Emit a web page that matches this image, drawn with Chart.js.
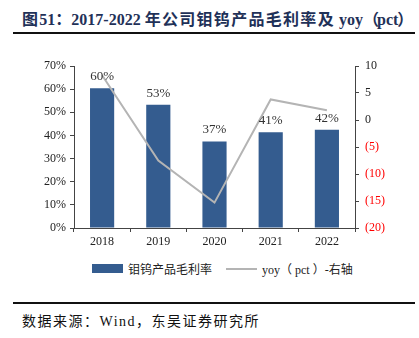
<!DOCTYPE html>
<html>
<head>
<meta charset="utf-8">
<script src="https://cdn.jsdelivr.net/npm/chart.js@4/dist/chart.umd.min.js"></script>
<style>
  body { margin: 0; background: #fff; width: 419px; height: 338px; position: relative; overflow: hidden; }
  .title { position: absolute; left: 22px; top: 6px; font: bold 16px "Liberation Serif", "Noto Sans CJK SC", serif; color: #1f3158; white-space: nowrap; }
  .title .cjk { letter-spacing: 1.3px; }
  .rule { position: absolute; left: 13px; width: 402px; height: 2px; background: #111; }
  .box { position: absolute; left: 0; top: 50px; width: 419px; height: 195px; }
  .legend { position: absolute; top: 260px; left: 0; width: 419px; font: 12px "Liberation Serif", "Noto Sans CJK SC", serif; color: #222; }
  .legend span { position: absolute; white-space: nowrap; }
  .source { position: absolute; left: 22px; top: 310px; font: 14px "Liberation Serif", "Noto Sans CJK SC", serif; letter-spacing: 1.5px; color: #111; white-space: nowrap; }
</style>
</head>
<body>
<div class="title"><span class="cjk">图</span>51：2017-2022 <span class="cjk">年公司钼钨产品毛利率及</span> yoy<span style="letter-spacing:-6px">（</span> pct <span style="margin-left:-5px">）</span></div>
<div class="rule" style="top:32px"></div>
<div class="box"><canvas id="chart"></canvas></div>
<div class="legend">
  <span style="left:92px;top:4px;width:31px;height:9px;background:#345c8f"></span>
  <span style="left:128px;top:0">钼钨产品毛利率</span>
  <span style="left:226px;top:8px;width:31px;height:2px;background:#b4b4b4"></span>
  <span style="left:262px;top:0">yoy（ pct ）-右轴</span>
</div>
<div class="rule" style="top:302px"></div>
<div class="source">数据来源：Wind，东吴证券研究所</div>
<script>
const years = ['2018', '2019', '2020', '2021', '2022'];
const grossMargin = [60.4, 53.3, 37.4, 41.4, 42.4];
const yoyPct = [8.3, -7.5, -15.3, 3.8, 1.8];
const leftTicks = [0, 10, 20, 30, 40, 50, 60, 70];
const rightTicks = [-20, -15, -10, -5, 0, 5, 10];

const serif = '"Liberation Serif", "Times New Roman", serif';

// percent labels above each bar
const barLabels = {
  id: 'barLabels',
  afterDatasetsDraw(chart) {
    const ctx = chart.ctx;
    const meta = chart.getDatasetMeta(0);
    ctx.save();
    ctx.font = '13px ' + serif;
    ctx.fillStyle = '#333';
    ctx.textAlign = 'center';
    ctx.textBaseline = 'bottom';
    meta.data.forEach((bar, i) => {
      ctx.fillText(Math.round(grossMargin[i]) + '%', bar.x, bar.y - 5);
    });
    ctx.restore();
  }
};

new Chart(document.getElementById('chart'), {
  type: 'bar',
  data: {
    labels: years,
    datasets: [
      {
        label: '钼钨产品毛利率',
        data: grossMargin,
        backgroundColor: '#345c8f',
        categoryPercentage: 0.43,
        barPercentage: 1,
        yAxisID: 'y',
        order: 2
      },
      {
        type: 'line',
        label: 'yoy（pct）-右轴',
        data: yoyPct,
        borderColor: '#b4b4b4',
        borderWidth: 2,
        pointRadius: 0,
        tension: 0,
        yAxisID: 'y1',
        order: 1
      }
    ]
  },
  options: {
    responsive: true,
    maintainAspectRatio: false,
    animation: false,
    layout: { padding: { top: 16, left: 0, right: 0, bottom: 0 } },
    plugins: { legend: { display: false }, tooltip: { enabled: false } },
    scales: {
      x: {
        grid: { drawOnChartArea: false, tickLength: 4, color: '#444' },
        border: { color: '#444', width: 1 },
        ticks: { color: '#222', font: { family: serif, size: 12 }, padding: 3 },
        afterFit: (s) => { s.height = 17; }
      },
      y: {
        position: 'left',
        min: 0,
        max: 70,
        afterBuildTicks: (s) => { s.ticks = leftTicks.map((v) => ({ value: v })); },
        grid: { drawOnChartArea: false, tickLength: 4, color: '#444' },
        border: { color: '#444', width: 1 },
        ticks: { color: '#222', font: { family: serif, size: 12 }, padding: 4, callback: (v) => v + '%' },
        afterFit: (s) => { s.width = 74; }
      },
      y1: {
        position: 'right',
        min: -20,
        max: 10,
        afterBuildTicks: (s) => { s.ticks = rightTicks.map((v) => ({ value: v })); },
        grid: { drawOnChartArea: false, tickLength: 4, color: '#444' },
        border: { color: '#444', width: 1 },
        ticks: {
          font: { family: serif, size: 12 },
          padding: 6,
          color: (c) => (c.tick.value < 0 ? '#ff0000' : '#222'),
          callback: (v) => (v < 0 ? '(' + Math.abs(v) + ')' : String(v))
        },
        afterFit: (s) => { s.width = 64; }
      }
    }
  },
  plugins: [barLabels]
});
</script>
</body>
</html>
